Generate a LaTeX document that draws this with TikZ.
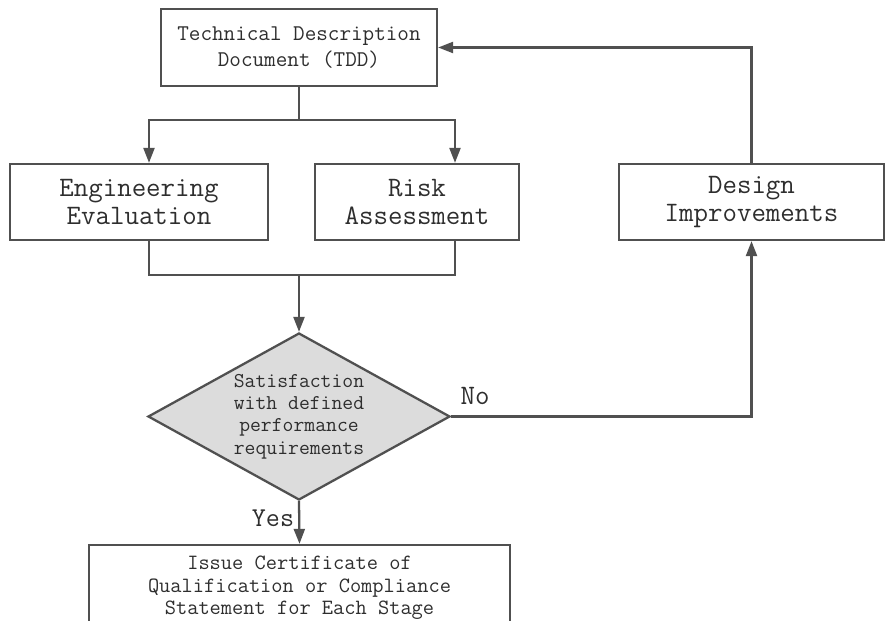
\documentclass[tikz,border=0pt]{standalone}
\usepackage{fontspec}
\usetikzlibrary{shapes.geometric,arrows.meta}

\definecolor{linegray}{HTML}{505050}
\definecolor{textgray}{HTML}{2E2E2E}
\definecolor{diafill}{HTML}{DCDCDC}

\tikzset{
  box/.style={draw=linegray, line width=1.3pt, rectangle, align=center,
    inner sep=0pt, text=textgray, font=\ttfamily\fontsize{16}{16}\selectfont},
  smallbox/.style={box, font=\ttfamily\fontsize{12.8}{14.4}\selectfont},
  decision/.style={draw=linegray, line width=1.3pt, diamond, aspect=1.81,
    fill=diafill, align=center, inner sep=0pt, text=textgray,
    minimum width=6.04cm, minimum height=3.34cm,
    font=\ttfamily\fontsize{12}{12.7}\selectfont},
  conn/.style={draw=linegray, line width=1.3pt},
  arr/.style={conn, -{Triangle[length=0.3cm,width=0.22cm]}},
  answer/.style={text=textgray, font=\ttfamily\fontsize{16}{16}\selectfont}
}

\begin{document}
\begin{tikzpicture}
        \useasboundingbox (0,0) rectangle (17.72,-12.42);
        \begin{scope}
        \clip (0,0) rectangle (17.72,-12.42);

        % Исходный документ
        \node[smallbox, minimum width=5.52cm, minimum height=1.54cm] (tdd) at (5.98,-0.95)
            {Technical Description\\Document (TDD)};

        % Оценки
        \node[box, minimum width=5.16cm, minimum height=1.52cm] (eng) at (2.78,-4.04)
            {Engineering\\Evaluation};
        \node[box, minimum width=4.08cm, minimum height=1.52cm] (risk) at (8.34,-4.04)
            {Risk\\Assessment};
        \node[box, minimum width=5.30cm, minimum height=1.52cm] (design) at (15.03,-4.04)
            {Design\\Improvements};

        % Решение
        \node[decision] (dec) at (5.98,-8.33)
            {Satisfaction\\with defined\\performance\\requirements};

        % Итог
        \node[smallbox, font=\ttfamily\fontsize{12.4}{12.8}\selectfont,
            minimum width=8.42cm, minimum height=1.72cm] (issue) at (5.99,-11.76)
            {Issue Certificate of\\Qualification or Compliance\\Statement for Each Stage};

        % Подписи ветвей
        \node[answer] (no) at (9.5,-7.92) {No};
        \node[answer, font=\ttfamily\fontsize{15.5}{15.5}\selectfont] (yes) at (5.46,-10.36) {Yes};

        % Связи
        \coordinate (split) at (5.98,-2.4);
        \coordinate (merge) at (5.98,-5.5);
        \draw[conn] (tdd.south) -- (split);
        \draw[arr] (split) -| ([xshift=0.2cm]eng.north);
        \draw[arr] (split) -| ([xshift=0.76cm]risk.north);
        \draw[conn] ([xshift=0.2cm]eng.south) |- (merge) -| ([xshift=0.76cm]risk.south);
        \draw[arr] (merge) -- (dec.north);
        \draw[arr] (dec.east) -| (design.south);
        \draw[arr] (design.north) |- (tdd.east);
        \draw[arr] (dec.south) -- (issue.north);
        \end{scope}
    \end{tikzpicture}
\end{document}
